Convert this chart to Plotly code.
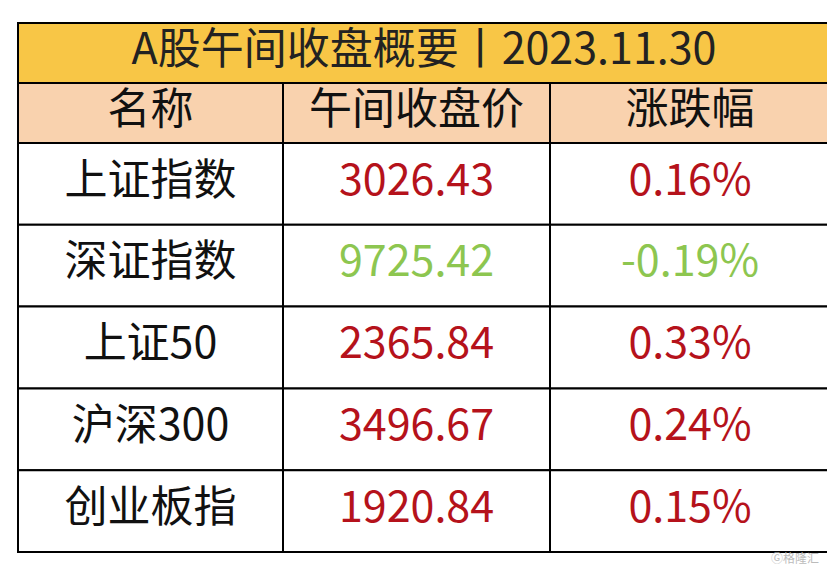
import plotly.graph_objects as go

title = "A股午间收盘概要丨2023.11.30"
headers = ["名称", "午间收盘价", "涨跌幅"]
names = ["上证指数", "深证指数", "上证50", "沪深300", "创业板指"]
prices = ["3026.43", "9725.42", "2365.84", "3496.67", "1920.84"]
changes = ["0.16%", "-0.19%", "0.33%", "0.24%", "0.15%"]

RED = "#B5121B"
GREEN = "#8DC650"
col_edges = [18, 283, 550, 830]
title_top, title_bot = 23, 83
head_bot = 143
row_h = (552 - head_bot) / len(names)

fig = go.Figure()
shapes = []
line = dict(color="black", width=2)
shapes.append(dict(type="rect", x0=col_edges[0], x1=col_edges[-1], y0=title_top, y1=title_bot,
                   fillcolor="#F8C646", line=line, layer="below"))
shapes.append(dict(type="rect", x0=col_edges[0], x1=col_edges[-1], y0=title_bot, y1=head_bot,
                   fillcolor="#F9D2AE", line=line, layer="below"))
for i in range(len(names)):
    for j in range(3):
        shapes.append(dict(type="rect", x0=col_edges[j], x1=col_edges[j + 1],
                           y0=head_bot + i * row_h, y1=head_bot + (i + 1) * row_h,
                           fillcolor="white", line=line, layer="below"))
for j in range(3):
    shapes.append(dict(type="rect", x0=col_edges[j], x1=col_edges[j + 1], y0=title_bot, y1=head_bot,
                       line=line, layer="below"))

centers = [(col_edges[j] + col_edges[j + 1]) / 2 for j in range(3)]
font = "Noto Sans CJK SC"
fs = 43

fig.add_trace(go.Scatter(x=[(col_edges[0] + col_edges[-1]) / 2], y=[(title_top + title_bot) / 2],
                         mode="text", text=[title], textfont=dict(size=fs, color="#222", family=font)))
fig.add_trace(go.Scatter(x=centers, y=[(title_bot + head_bot) / 2] * 3, mode="text", text=headers,
                         textfont=dict(size=fs, color="#111", family=font)))
ys = [head_bot + (i + 0.5) * row_h for i in range(len(names))]
fig.add_trace(go.Scatter(x=[centers[0]] * len(names), y=ys, mode="text", text=names,
                         textfont=dict(size=fs, color="#111", family=font)))
colors = [GREEN if c.startswith("-") else RED for c in changes]
fig.add_trace(go.Scatter(x=[centers[1]] * len(names), y=ys, mode="text", text=prices,
                         textfont=dict(size=fs, color=colors, family=font)))
fig.add_trace(go.Scatter(x=[centers[2]] * len(names), y=ys, mode="text", text=changes,
                         textfont=dict(size=fs, color=colors, family=font)))

fig.add_annotation(x=795, y=557, text="Ⓖ格隆汇", showarrow=False, xref="x", yref="y",
                   font=dict(size=12, color="#BBBBBB", family=font))

# page body adds an 8px offset, so shift the visible window to compensate
fig.update_layout(
    width=835, height=571, margin=dict(l=0, r=0, t=0, b=0),
    plot_bgcolor="white", paper_bgcolor="white", showlegend=False, shapes=shapes,
    xaxis=dict(range=[8, 843], visible=False, fixedrange=True),
    yaxis=dict(range=[579, 8], visible=False, fixedrange=True),
)
fig.write_html("out.html")
